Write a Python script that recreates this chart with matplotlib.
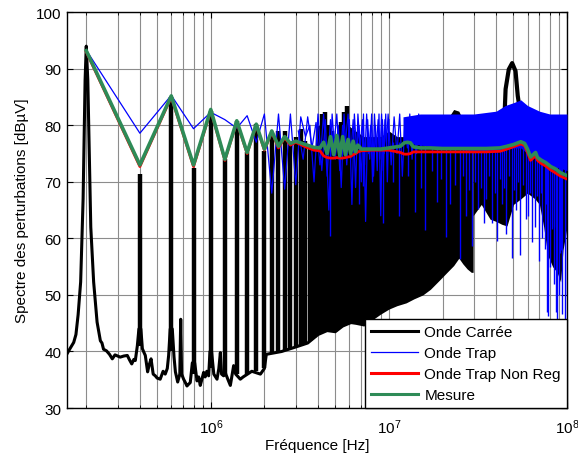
import numpy as np
import matplotlib
matplotlib.use('Agg')
import matplotlib.pyplot as plt
from matplotlib.lines import Line2D
from matplotlib.ticker import LogLocator, NullFormatter, FixedLocator

plt.rcParams['font.family'] = ['Liberation Sans', 'DejaVu Sans']
plt.rcParams['mathtext.fontset'] = 'custom'
plt.rcParams['mathtext.rm'] = 'Liberation Sans'

# ---------------- data (frequencies in MHz, levels in dBuV) ----------------
# Onde Carree: low-frequency noise floor trace (incl. fundamental)
carre_floor_f = [0.156, 0.162, 0.170, 0.175, 0.180, 0.186, 0.192, 0.197, 0.200, 0.204,
                 0.212, 0.220, 0.230, 0.240, 0.245, 0.250, 0.260, 0.270, 0.280, 0.290,
                 0.300, 0.310, 0.325, 0.340, 0.350, 0.360, 0.370, 0.377, 0.387, 0.395,
                 0.405, 0.413, 0.422, 0.429, 0.442, 0.450, 0.462, 0.475, 0.488, 0.500,
                 0.520, 0.540, 0.555, 0.570, 0.580, 0.592, 0.608, 0.622, 0.633, 0.652,
                 0.670, 0.678, 0.686, 0.704, 0.720, 0.735, 0.750, 0.767, 0.788, 0.812,
                 0.837, 0.855, 0.873, 0.890, 0.912, 0.930, 0.950, 0.973, 0.990, 1.010,
                 1.040, 1.084, 1.110, 1.132, 1.150, 1.180, 1.215, 1.250, 1.288, 1.344,
                 1.380, 1.465, 1.520, 1.700, 1.900, 2.000, 2.050, 2.500, 3.000, 3.500,
                 4.000, 4.500, 5.000, 5.500, 6.000]
carre_floor_v = [39.6, 40.5, 41.6, 43.0, 46.5, 52.3, 67.0, 88.0, 94.0, 88.0,
                 62.0, 52.3, 45.2, 41.9, 41.5, 40.4, 40.1, 39.5, 38.7, 39.4,
                 39.2, 39.0, 39.2, 39.3, 38.5, 37.8, 38.6, 38.4, 41.0, 44.0,
                 44.0, 40.5, 39.8, 39.3, 36.4, 37.5, 38.7, 36.0, 35.7, 35.3,
                 35.1, 36.5, 36.0, 37.0, 39.3, 44.0, 44.0, 39.0, 36.4, 34.6,
                 36.0, 45.7, 36.0, 35.1, 34.5, 33.9, 34.2, 34.5, 38.0, 38.0,
                 34.8, 35.5, 34.0, 35.0, 36.3, 35.5, 36.5, 35.7, 40.0, 40.0,
                 36.0, 35.1, 37.0, 39.8, 36.0, 35.7, 36.0, 35.0, 34.0, 37.5,
                 36.0, 35.1, 35.5, 36.5, 36.0, 37.0, 39.5, 40.0, 40.8, 41.5,
                 43.0, 43.7, 43.5, 44.5, 45.0]

# Onde Carree: harmonic lines (frequency, base level, peak level)
harm_f = [0.4, 0.6, 0.8, 1.0, 1.2, 1.4, 1.6, 1.8, 2.0, 2.2,
          2.4, 2.6, 2.8, 3.0, 3.2, 3.4, 3.6, 3.8, 4.0, 4.2,
          4.4, 4.6, 4.8, 5.0, 5.2, 5.4, 5.6, 5.8, 6.0]
harm_base = [41.0, 40.0, 36.0, 37.0, 36.0, 36.0, 36.0, 36.5, 37.0, 39.5,
             40.0, 40.0, 40.5, 40.8, 41.0, 41.3, 41.8, 42.4, 43.0, 43.3,
             43.6, 43.7, 43.6, 43.5, 44.0, 44.3, 44.6, 44.8, 45.0]
harm_peak = [71.4, 85.0, 72.5, 82.5, 74.0, 80.8, 75.3, 80.2, 75.5, 78.1,
             79.0, 79.0, 77.0, 78.0, 79.4, 77.3, 76.5, 75.8, 79.9, 82.0,
             82.3, 80.0, 79.0, 78.0, 77.0, 80.5, 82.3, 83.4, 78.0]

# Onde Carree: dense band (envelopes)
dense_f = [5.9, 6.5, 7.23, 8.0, 8.97, 10.0, 11.1, 12.5, 13.8, 15.5,
           17.1, 19.2, 21.2, 23.1, 24.7, 26.0, 27.5, 29.0, 29.7]
dense_lo = [45.0, 44.8, 44.5, 45.5, 46.6, 47.5, 48.1, 48.6, 49.3, 50.0,
            51.0, 52.6, 54.0, 55.2, 56.5, 55.5, 54.6, 54.0, 54.0]
dense_hi = [80.0, 79.0, 78.0, 78.0, 78.0, 79.0, 78.0, 78.0, 79.0, 79.0,
            79.0, 80.0, 81.0, 82.8, 82.5, 81.0, 80.0, 80.0, 80.0]
sparse_f = [29.7, 33.0, 37.0, 40.0, 43.0, 46.0, 50.0, 55.0, 60.0, 66.0,
            70.0, 74.0, 78.0, 83.0, 88.0, 92.0, 95.0, 100.0]
sparse_lo = [64.0, 66.0, 63.4, 63.0, 62.5, 62.2, 66.0, 67.0, 68.0, 67.0,
             66.0, 62.0, 57.0, 55.0, 54.0, 52.3, 58.0, 62.0]
sparse_hi = [80.0, 81.0, 80.0, 81.0, 81.0, 82.0, 82.0, 82.0, 80.0, 80.0,
             79.0, 79.0, 78.0, 78.0, 77.0, 76.0, 75.0, 74.0]
hump_f = [44.5, 45.2, 47.1, 49.2, 51.4, 52.9, 54.8]
hump_v = [81.0, 86.4, 89.9, 91.0, 89.6, 85.2, 82.0]

# Onde Trap
trap_f = [0.2, 0.4, 0.6, 0.8, 1.0, 1.2, 1.4, 1.6, 1.8, 2.0,
          2.2, 2.4, 2.6, 2.8, 3.0, 3.2, 3.4, 3.6, 3.8, 4.0,
          4.2, 4.4, 4.6, 4.8, 5.0, 5.2, 5.4, 5.6, 5.8, 6.0,
          6.2, 6.4, 6.6, 6.8, 7.0, 7.2, 7.4, 7.6, 7.8, 8.0,
          8.2, 8.4, 8.6, 8.8, 9.0, 9.2, 9.4, 9.6, 9.8, 10.0]
trap_v = [93.3, 78.6, 85.3, 79.4, 82.3, 81.0, 79.5, 81.7, 77.0, 82.0,
          68.0, 82.0, 68.7, 82.0, 69.5, 81.5, 78.0, 80.0, 70.0, 82.0,
          72.0, 81.0, 65.0, 82.0, 74.0, 80.0, 69.0, 82.0, 73.0, 81.0,
          66.0, 82.0, 75.0, 80.0, 70.0, 82.0, 63.0, 81.0, 74.0, 82.0,
          71.0, 80.0, 72.0, 82.0, 64.0, 81.0, 75.0, 82.0, 70.0, 81.0]
# second set of Onde Trap lines between harmonics (3 - 15 MHz)
trap2_f = [3.1, 3.3, 3.5, 3.7, 3.9, 4.1, 4.3, 4.5, 4.7, 4.9,
           5.1, 5.3, 5.5, 5.7, 5.9, 6.1, 6.3, 6.5, 6.7, 6.9,
           7.1, 7.3, 7.5, 7.7, 7.9, 8.1, 8.3, 8.5, 8.7, 8.9,
           9.1, 9.3, 9.5, 9.7, 9.9, 10.3, 10.7, 11.1, 11.5, 11.9,
           12.3, 12.7, 13.1, 13.5, 13.9, 14.3, 14.7, 15.1]
trap2_v = [79.0, 74.0, 81.5, 76.0, 80.5, 73.0, 82.0, 71.0, 81.0, 76.0,
           82.0, 72.0, 80.0, 77.0, 82.0, 74.0, 81.0, 69.0, 82.0, 76.0,
           81.0, 73.0, 82.0, 75.0, 80.0, 70.0, 82.0, 76.0, 81.0, 74.0,
           82.0, 72.0, 81.0, 77.0, 82.0, 73.0, 81.5, 75.0, 82.0, 71.0,
           81.0, 76.0, 82.0, 74.0, 81.5, 75.0, 82.0, 76.0]
trap_band_f = [12, 15, 20, 30, 40, 45, 50, 55, 60, 70, 80, 90, 100]
trap_band_hi = [81.5, 82, 82, 82, 82.5, 83.5, 84, 84.5, 83.5, 82.5, 82, 82, 82]
trap_band_lo = [77, 76.5, 76, 75.5, 75.5, 76, 76, 76, 75, 74, 73, 72.5, 72]
trap_spike_f = [4.69, 6.78, 7.2, 9.29, 11.4, 14.0, 16.0, 18.7, 20.8, 22.0,
                25.2, 27.0, 29.4, 31.6, 34.1, 35.0, 38.1, 40.6, 43.0, 45.2,
                49.2, 52.0, 54.8, 58.5, 60.0, 63.8, 66.0, 69.5, 72.0, 74.8,
                77.5, 78.1, 80.0, 82.6, 84.0, 86.2, 88.0, 90.0, 91.2, 94.0,
                97.0, 99.4,
                10.6, 12.8, 15.2, 17.4, 19.6, 23.5, 26.1, 28.3, 30.5, 32.8,
                36.5, 39.3, 41.8, 44.0, 47.0, 50.5, 53.4, 56.5, 61.8, 67.8,
                71.0, 76.0, 85.0, 93.0]
trap_spike_lo = [60.5, 66.0, 69.3, 62.8, 64.0, 64.6, 61.4, 66.4, 60.2, 66.0,
                 56.3, 64.0, 58.7, 65.2, 62.8, 67.0, 62.8, 59.6, 66.0, 60.8,
                 56.6, 65.0, 57.0, 63.4, 64.0, 59.3, 62.0, 56.0, 60.0, 58.1,
                 47.0, 46.3, 55.0, 61.6, 52.0, 46.9, 44.6, 50.0, 57.5, 46.6,
                 45.0, 49.9,
                 70.0, 71.0, 69.0, 72.0, 70.5, 69.5, 71.0, 68.5, 70.0, 69.0,
                 71.0, 68.0, 70.5, 69.0, 71.0, 68.5, 70.0, 69.5, 68.0, 67.5,
                 68.0, 66.0, 62.0, 58.0]

# Mesure and Onde Trap Non Reg
mes_f = [0.2, 0.4, 0.6, 0.8, 1.0, 1.2, 1.4, 1.6, 1.8, 2.0,
         2.2, 2.4, 2.6, 2.8, 3.0, 3.4, 3.8, 4.1, 4.3, 4.5,
         4.7, 4.9, 5.1, 5.3, 5.5, 5.7, 5.9, 6.1, 6.3, 6.5,
         6.7, 7.0, 8.0, 9.0, 10.0, 11.6, 12.2, 12.7, 13.2, 13.7,
         15.0, 17.0, 20.0, 25.0, 30.0, 35.0, 42.0, 46.0, 50.0, 55.0,
         57.8, 60.0, 62.4, 64.5, 66.6, 68.3, 72.0, 76.0, 81.0, 86.0,
         92.0, 100.0]
mes_v = [93.2, 73.0, 85.2, 73.0, 82.8, 74.0, 80.8, 75.2, 80.2, 75.8,
         79.0, 76.3, 78.0, 76.8, 77.2, 76.6, 76.1, 76.0, 77.0, 75.0,
         78.0, 74.8, 78.2, 74.6, 78.0, 74.8, 77.5, 75.0, 77.2, 75.3,
         76.5, 75.8, 75.8, 75.8, 76.0, 76.3, 76.9, 77.0, 76.9, 76.2,
         76.0, 76.0, 75.9, 75.9, 75.9, 75.9, 76.0, 76.3, 76.6, 77.1,
         76.8, 75.8, 74.4, 74.8, 75.2, 74.3, 73.8, 73.4, 72.7, 72.3,
         71.6, 71.1]
nonreg_v = [93.0, 72.7, 85.0, 72.7, 82.6, 73.8, 80.6, 75.0, 80.0, 75.6,
            78.8, 76.0, 77.8, 76.5, 77.0, 76.2, 75.6, 75.5, 74.6, 74.3,
            74.2, 74.2, 74.3, 74.2, 74.2, 74.3, 74.4, 74.5, 74.8, 75.0,
            75.3, 75.5, 75.6, 75.6, 75.6, 75.2, 74.9, 74.9, 75.0, 75.3,
            75.3, 75.3, 75.3, 75.3, 75.3, 75.3, 75.4, 75.8, 76.2, 76.7,
            76.4, 75.2, 73.8, 74.2, 74.6, 73.8, 73.2, 72.8, 72.1, 71.6,
            71.0, 70.5]

series_labels = ['Onde Carrée', 'Onde Trap', 'Onde Trap Non Reg', 'Mesure']
y_ticks = [30, 40, 50, 60, 70, 80, 90, 100]

MHZ = 1e6
GREEN = '#2e8b57'
FS = 11

fig = plt.figure(figsize=(5.78, 4.56), dpi=100)
ax = fig.add_axes([0.116, 0.103, 0.865, 0.868])
ax.set_xscale('log')

def hz(lst):
    return np.asarray(lst, dtype=float) * MHZ

# Onde Carree
ax.plot(hz(carre_floor_f), carre_floor_v, color='black', lw=2.2, zorder=2)
ax.vlines(hz(harm_f), harm_base, harm_peak, color='black', lw=3.2, zorder=2)
ax.fill_between(hz(dense_f), dense_lo, dense_hi, color='black', lw=0, zorder=2)
ax.fill_between(hz(sparse_f), sparse_lo, sparse_hi, color='black', lw=0, zorder=2)
ax.plot(hz(hump_f), hump_v, color='black', lw=3.0, zorder=2)

# Onde Trap
ax.plot(hz(trap_f), trap_v, color='blue', lw=0.9, zorder=3)
ax.plot(hz(trap2_f), trap2_v, color='blue', lw=0.9, zorder=3)
ax.fill_between(hz(trap_band_f), trap_band_lo, trap_band_hi, color='blue', lw=0, zorder=3)
ax.vlines(hz(trap_spike_f), trap_spike_lo, 77, color='blue', lw=1.0, zorder=3)

# Non Reg and Mesure
ax.plot(hz(mes_f), nonreg_v, color='red', lw=2.0, zorder=4)
ax.plot(hz(mes_f), mes_v, color=GREEN, lw=2.6, zorder=5)

ax.set_xlim(1.56e5, 1e8)
ax.set_ylim(30, 100)
ax.yaxis.set_major_locator(FixedLocator(y_ticks))
ax.xaxis.set_major_locator(LogLocator(base=10))
ax.xaxis.set_minor_locator(LogLocator(base=10, subs=np.arange(2, 10)))
ax.xaxis.set_minor_formatter(NullFormatter())
ax.set_axisbelow(True)
ax.grid(True, which='both', axis='x', color='0.55', lw=0.8, ls='-')
ax.grid(True, which='major', axis='y', color='0.55', lw=0.8, ls='-')
ax.tick_params(which='both', direction='in', top=True, right=True, labelsize=FS)
ax.tick_params(which='major', length=4)
ax.tick_params(which='minor', length=2.5)
ax.tick_params(axis='x', which='major', pad=7)
ax.tick_params(axis='y', which='major', pad=4)
for s in ax.spines.values():
    s.set_linewidth(1.0)

ax.set_xlabel('Fréquence [Hz]', fontsize=FS, labelpad=1)
ax.set_ylabel('Spectre des perturbations [dBµV]', fontsize=FS, labelpad=5)

handles = [Line2D([], [], color='black', lw=2.2),
           Line2D([], [], color='blue', lw=0.9),
           Line2D([], [], color='red', lw=2.2),
           Line2D([], [], color=GREEN, lw=2.2)]
leg = ax.legend(handles, series_labels, loc='lower right', fontsize=FS,
                frameon=True, fancybox=False, framealpha=1, edgecolor='black',
                borderaxespad=0, handlelength=3.1, handletextpad=0.4,
                labelspacing=0.45, borderpad=0.4)
leg.get_frame().set_linewidth(1.0)
leg.set_zorder(10)

fig.savefig('out.png', dpi=100)
